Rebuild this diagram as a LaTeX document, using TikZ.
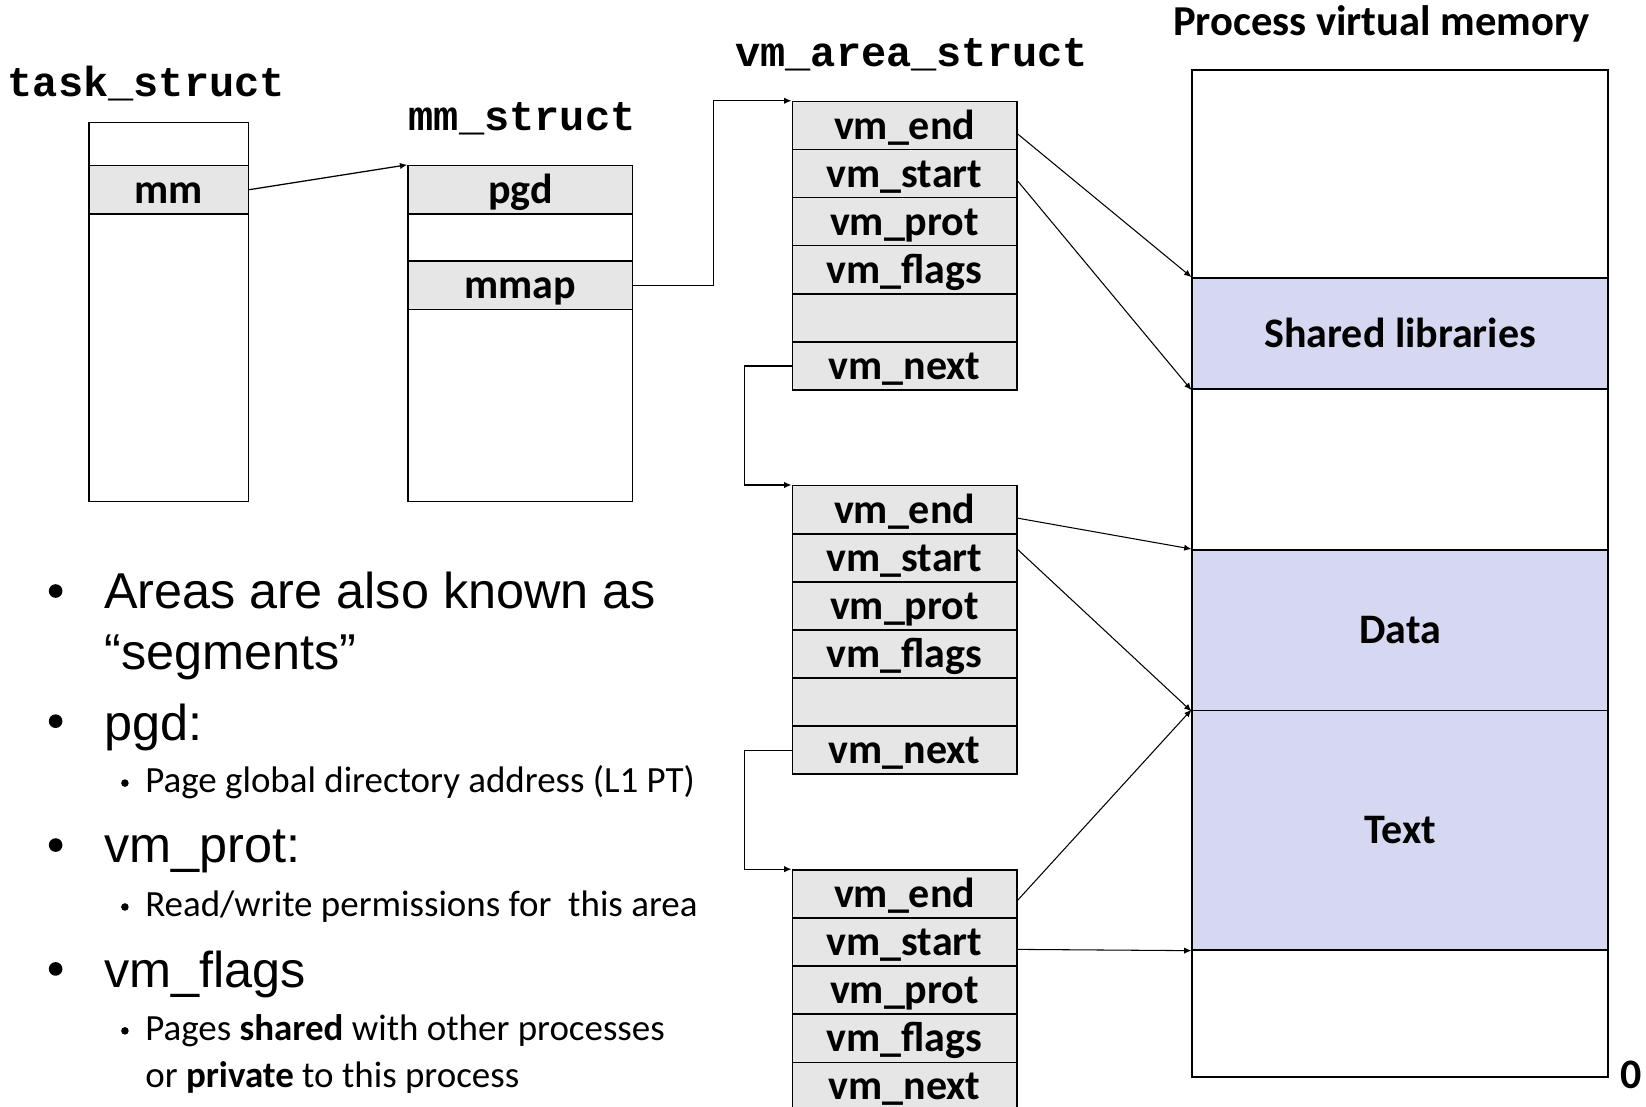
\documentclass[tikz,border=0pt]{standalone}
\usepackage{fontspec}
\setmainfont{Carlito}
\newfontfamily\helvfont{Liberation Sans}
\newfontfamily\courfont{Liberation Mono}
\usetikzlibrary{arrows.meta}
\definecolor{rowgray}{HTML}{E6E6E6}
\definecolor{seglav}{HTML}{D6D8F2}

\begin{document}
\begin{tikzpicture}[x=0.5pt,y=-0.5pt,
  cell/.style={draw, line width=0.7pt, inner sep=0pt, anchor=north west,
    font=\fontsize{20}{20}\selectfont\bfseries, text height=12.9pt, text depth=0pt},
  field/.style={cell, fill=rowgray, minimum width=107pt, minimum height=22.9pt},
  seg/.style={cell, line width=0.8pt, minimum width=198pt},
  title/.style={inner sep=0pt, anchor=base west, font=\courfont\bfseries\fontsize{20}{20}\selectfont},
  ptr/.style={-{Latex[length=3.5pt,width=3pt]}, line width=0.5pt},
  link/.style={-{Latex[length=3.5pt,width=3pt]}, line width=0.6pt},
  bigtext/.style={inner sep=0pt, anchor=base west, font=\helvfont\fontsize{24}{28}\selectfont},
  smalltext/.style={inner sep=0pt, anchor=base west, font=\fontsize{17.6}{21}\selectfont},
  dot/.style={circle, fill=black, inner sep=0pt, minimum size=6.5pt},
  subdot/.style={circle, fill=black, inner sep=0pt, minimum size=3.6pt}
]
\useasboundingbox (0,0) rectangle (1568,1054);
\begin{scope}
\clip (0,0) rectangle (1568,1054);

% task_struct
\node[title] (tTask) at (7,92) {task\_struct};
\node[cell, minimum width=76pt, minimum height=20.5pt] (tsTop) at (84,116) {};
\node[cell, fill=rowgray, minimum width=76pt, minimum height=23pt] (tsmm) at (84,157) {mm};
\node[cell, minimum width=76pt, minimum height=137pt] (tsRest) at (84,203) {};

% mm_struct
\node[title] (tMm) at (389,124) {mm\_struct};
\node[field, minimum height=23pt] (pgd) at (388,157) {pgd};
\node[cell, minimum width=107pt, minimum height=22.5pt] (mmBlank) at (388,203) {};
\node[field, minimum height=23pt] (mmap) at (388,248) {mmap};
\node[cell, minimum width=107pt, minimum height=91.5pt] (mmRest) at (388,294) {};

% vm_area_struct list
\node[title] (tArea) at (700,63) {vm\_area\_struct};
\foreach \lab [count=\i from 0] in {vm\_end,vm\_start,vm\_prot,vm\_flags,{},vm\_next}
  \node[field] (a1r\i) at (754,{96+45.8*\i}) {\lab};
\foreach \lab [count=\i from 0] in {vm\_end,vm\_start,vm\_prot,vm\_flags,{},vm\_next}
  \node[field] (a2r\i) at (754,{462+45.8*\i}) {\lab};
\foreach \lab [count=\i from 0] in {vm\_end,vm\_start,vm\_prot,vm\_flags,vm\_next}
  \node[field] (a3r\i) at (754,{828+45.8*\i}) {\lab};

% process virtual memory
\node[inner sep=0pt, anchor=base west, font=\fontsize{20.3}{20}\selectfont\bfseries] (tVm) at (1117,34) {Process virtual memory};
\node[seg, minimum height=99pt] (vmTop) at (1135,66) {};
\node[seg, fill=seglav, minimum height=53pt] (shlib) at (1135,264) {Shared libraries};
\node[seg, minimum height=76.5pt] (vmGap) at (1135,370) {};
\node[seg, fill=seglav, minimum height=76.5pt] (data) at (1135,523) {Data};
\node[seg, fill=seglav, minimum height=114pt] (text) at (1135,676) {Text};
\node[seg, minimum height=60.5pt] (vmBot) at (1135,904) {};
\node[inner sep=0pt, anchor=base west, font=\fontsize{20}{20}\selectfont\bfseries] (zero) at (1543,1037) {0};

% pointers between structures
\draw[link] (tsmm.east) -- (pgd.north west);
\draw[link] (mmap.east) -- ++(76,0) |- (a1r0.north west);
\draw[link] (a1r5.west) -- ++(-45,0) |- (a2r0.north west);
\draw[link] (a2r5.west) -- ++(-45,0) |- (a3r0.north west);

% area bounds into the address space
\draw[ptr] ([yshift=-4pt]a1r0.east) -- (shlib.north west);
\draw[ptr] ([yshift=-3.5pt]a1r1.east) -- (shlib.south west);
\draw[ptr] ([yshift=-4pt]a2r0.east) -- (data.north west);
\draw[ptr] ([yshift=4pt]a2r1.east) -- (data.south west);
\draw[ptr] ([yshift=-3pt]a3r0.east) -- (text.north west);
\draw[ptr] ([yshift=-3.5pt]a3r1.east) -- (text.south west);

% notes
\node[dot] (b1) at (53,563) {};
\node[bigtext] (n1) at (99,580) {Areas are also known as};
\node[bigtext] (n1b) at (99,638) {“segments”};
\node[dot] (b2) at (53,687) {};
\node[bigtext] (n2) at (99,705) {pgd:};
\node[subdot] (d2) at (119,746) {};
\node[smalltext] (s2) at (138,755) {Page global directory address (L1 PT)};
\node[dot] (b3) at (53,805) {};
\node[bigtext] (n3) at (99,822) {vm\_prot:};
\node[subdot] (d3) at (119,864) {};
\node[smalltext] (s3) at (138,873) {Read/write permissions for~~this area};
\node[dot] (b4) at (53,923) {};
\node[bigtext] (n4) at (99,941) {vm\_flags};
\node[subdot] (d4) at (119,982) {};
\node[smalltext] (s4) at (138,991) {Pages \textbf{shared} with other processes};
\node[smalltext] (s4b) at (138,1036) {or \textbf{private} to this process};
\end{scope}
\end{tikzpicture}
\end{document}
